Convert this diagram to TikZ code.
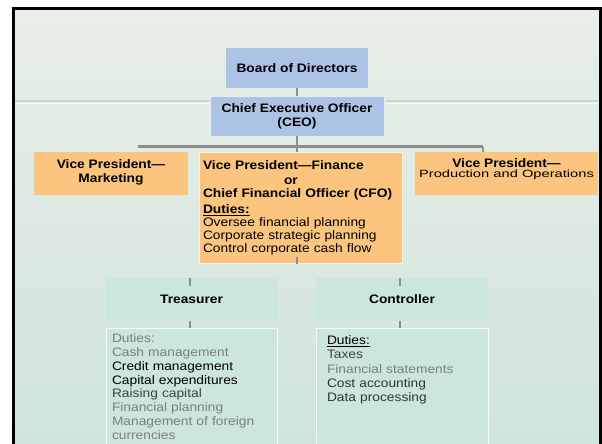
\documentclass[tikz,border=0pt]{standalone}
\usepackage{fontspec}
\setmainfont{Liberation Sans}[FakeStretch=1.12]
\newfontfamily\widefont{Liberation Sans}[FakeStretch=1.4]
\usepackage{xcolor}

\definecolor{boardblue}{HTML}{ADC3E6}
\definecolor{vporange}{HTML}{FBC47F}
\definecolor{staffmint}{HTML}{CDE6DC}
\definecolor{linkgray}{HTML}{8E8E8E}
\definecolor{faded}{HTML}{7A7F7C}
\definecolor{skytop}{HTML}{E8EFE7}
\definecolor{skybottom}{HTML}{D0E4DE}
\definecolor{horizon}{HTML}{C9D8CF}

\begin{document}
\begin{tikzpicture}[x=1pt,y=-1pt,
  chart/.style={inner sep=0pt,font=\bfseries\fontsize{12.3}{14}\selectfont,align=center},
  blue/.style={chart,fill=boardblue},
  vp/.style={chart,fill=vporange},
  staff/.style={chart,fill=staffmint},
  duties/.style={staff,draw=white!85!staffmint,line width=1pt,anchor=north,align=left,
    font=\fontsize{12.3}{13.8}\selectfont},
  link/.style={draw=linkgray,line width=2pt}]
  % background and frame
  \useasboundingbox (0,0) rectangle (602,444);
  \fill[white] (0,0) rectangle (602,444);
  \shade[top color=skytop,bottom color=skybottom] (13,9) rectangle (600,444);
  \draw[horizon,line width=1.5pt] (15,101) -- (598,101);
  \draw[white!50!skytop,line width=1.5pt] (15,103.5) -- (598,103.5);
  \draw[black,line width=3pt] (13,444) -- (13,9) -- (600,9) -- (600,444);

  % top of the chart
  \node[blue,minimum width=142,minimum height=40] (board) at (297,68) {Board of Directors};
  \node[blue,draw=white!70!boardblue,minimum width=174,minimum height=40] (ceo) at (297,116)
    {Chief Executive Officer\\(CEO)};

  % vice presidents
  \node[vp,minimum width=154,minimum height=43] (vpm) at (111,173.5)
    {\\[-8pt]Vice President---\\Marketing};
  \node[vp,draw=white!75!vporange,line width=1pt,minimum width=203,minimum height=111,
        text width=195,align=left,font=\bfseries\fontsize{12.3}{13}\selectfont] (vpf) at (300.5,207.5)
    {Vice President---Finance\\[2pt]
     \hspace*{81pt}or\\
     Chief Financial Officer (CFO)\\[3pt]
     \underline{Duties:}\\
     \mdseries Oversee financial planning\\
     \mdseries Corporate strategic planning\\
     \mdseries Control corporate cash flow};
  \node[vp,minimum width=183,minimum height=43] (vpp) at (506.5,173.5)
    {Vice President---\\[-4pt]\mdseries\widefont\fontsize{10.5}{12}\selectfont Production and Operations\\[-3pt]};

  % treasurer and controller
  \node[staff,minimum width=171,minimum height=43] (treas) at (191.5,299.5) {Treasurer};
  \node[staff,minimum width=172,minimum height=43] (ctrl) at (402,299.5) {Controller};
  \node[duties,minimum width=171,minimum height=116,text width=159,inner ysep=5pt] (treasd) at (191.5,328)
    {\textcolor{faded}{Duties:}\\
     \textcolor{faded}{Cash management}\\
     Credit management\\
     Capital expenditures\\
     \textcolor{black!75}{Raising capital}\\
     \textcolor{faded}{Financial planning}\\
     \textcolor{faded}{Management of foreign}\\
     \textcolor{faded}{currencies}};
  \node[duties,minimum width=172,minimum height=116,text width=150,inner ysep=7pt] (ctrld) at (402,328)
    {\underline{Duties:}\\[0.5pt]
     \textcolor{black!75}{Taxes}\\[0.5pt]
     \textcolor{faded}{Financial statements}\\[0.5pt]
     \textcolor{black!80}{Cost accounting}\\[0.5pt]
     \textcolor{black!80}{Data processing}\\[40pt]\null};

  % connectors
  \coordinate (barL) at (138,146.5);
  \coordinate (barR) at (483,146.5);
  \coordinate (stubF) at ([yshift=7]vpf.south -| 297,0);
  \draw[link,line width=1.5pt] (board.south) -- (ceo.north);
  \draw[link,line width=1.5pt] (ceo.south) -- (ceo.south |- vpf.north);
  \draw[link,line width=3pt] (barL) -- (barR);
  \draw[link,line width=1.5pt] (barR) -- (barR |- vpp.north);
  \draw[link] (vpf.south -| stubF) -- (stubF);
  \draw[link] ([yshift=-8]treas.north -| 190,0) -- (treas.north -| 190,0);
  \draw[link] ([yshift=-8]ctrl.north -| 400,0) -- (ctrl.north -| 400,0);
  \draw[link] (treas.south -| 190,0) -- (treasd.north -| 190,0);
  \draw[link] (ctrl.south -| 400,0) -- (ctrld.north -| 400,0);
\end{tikzpicture}
\end{document}
